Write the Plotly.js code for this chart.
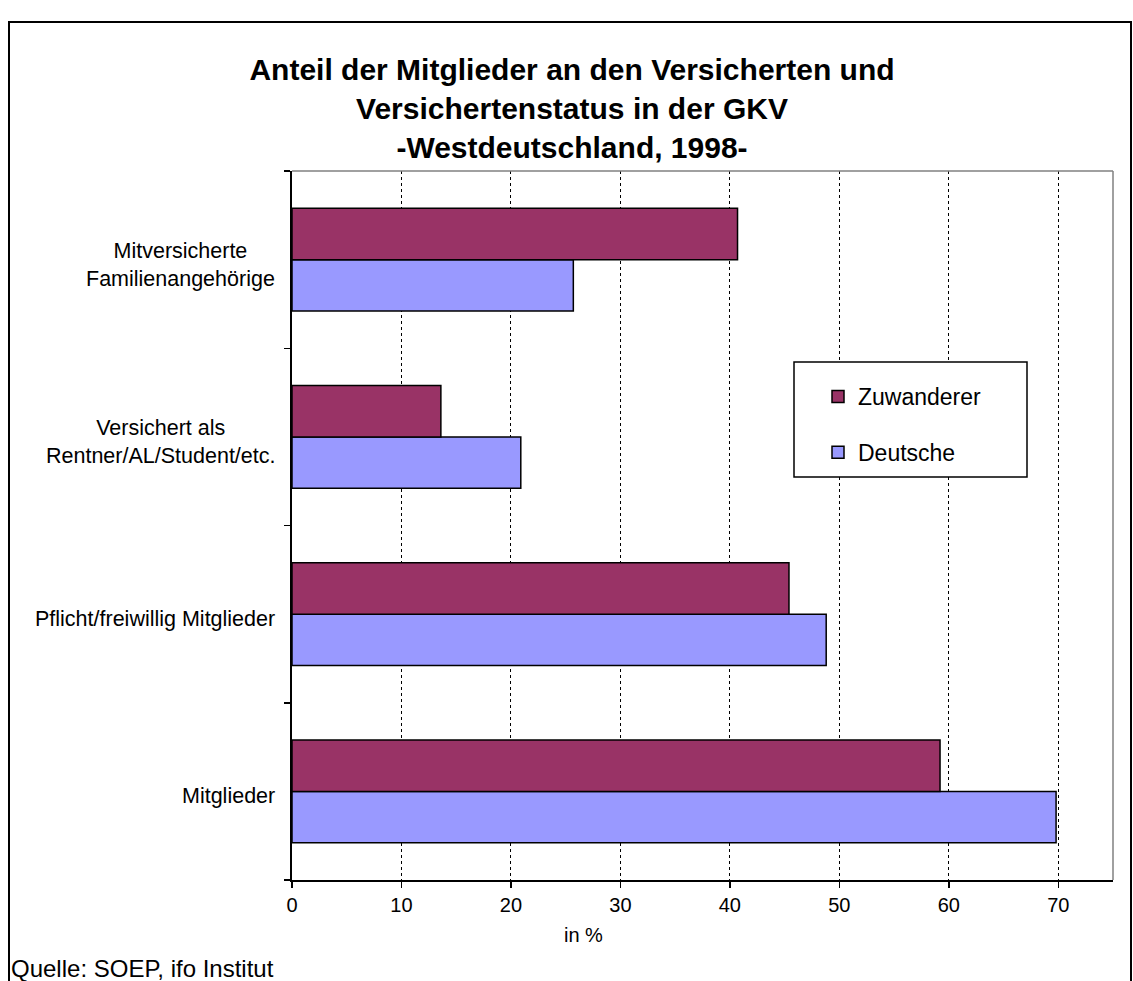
<!DOCTYPE html>
<html>
<head>
<meta charset="utf-8">
<script src="https://cdn.plot.ly/plotly-3.0.1.min.js"></script>
<style>html,body{margin:0;padding:0;background:#fff;}#chart{width:1133px;height:981px;}</style>
</head>
<body>
<div id="chart"></div>
<script>
// Data (categories listed bottom to top)
const categories = ["Mitglieder", "Pflicht/freiwillig Mitglieder", "Versichert als<br>Rentner/AL/Student/etc.", "Mitversicherte<br>Familienangehörige"];
const zuwanderer = [59.2, 45.4, 13.6, 40.7];
const deutsche = [69.8, 48.8, 20.9, 25.7];
const xTicks = [0, 10, 20, 30, 40, 50, 60, 70];
const seriesNames = ["Zuwanderer", "Deutsche"];

const FONT = "Liberation Sans, Arial, sans-serif";
const L = 292, R = 20, T = 171, B = 101, W = 1133, H = 981;
const pw = W - L - R, ph = H - T - B;
const px = v => (v - L) / pw;
const py = v => (H - B - v) / ph;

const traces = [
  {type: "bar", orientation: "h", name: seriesNames[1], y: categories, x: deutsche,
   legendgroup: "d", legendrank: 2,
   marker: {color: "#9999FF", line: {color: "#000", width: 1.5}}, hoverinfo: "x+name"},
  {type: "bar", orientation: "h", name: seriesNames[0], y: categories, x: zuwanderer,
   legendgroup: "z", legendrank: 1,
   marker: {color: "#993366", line: {color: "#000", width: 1.5}}, hoverinfo: "x+name"}
];

const annotations = categories.map(c => ({
  xref: "paper", yref: "y", x: 0, y: c, xanchor: "right", yanchor: "middle",
  xshift: -15, yshift: -5, text: c, align: "center", showarrow: false,
  font: {family: FONT, size: 21.5, color: "#000"}
}));
annotations.push({
  xref: "paper", yref: "paper", x: px(9), y: py(968), xanchor: "left", yanchor: "middle",
  text: "Quelle: SOEP, ifo Institut", showarrow: false,
  font: {family: FONT, size: 24, color: "#000"}
});
annotations.push({
  xref: "paper", yref: "paper", x: px(583), y: py(935), xanchor: "center", yanchor: "middle",
  text: "in %", showarrow: false,
  font: {family: FONT, size: 20, color: "#000"}
});

const layout = {
  width: W, height: H,
  margin: {l: L, r: R, t: T, b: B, pad: 0},
  paper_bgcolor: "#fff", plot_bgcolor: "#fff",
  title: {
    text: "<b>Anteil der Mitglieder an den Versicherten und<br>Versichertenstatus in der GKV<br>-Westdeutschland, 1998-</b>",
    font: {family: FONT, size: 30, color: "#000"},
    x: 572 / W, xanchor: "center", xref: "container",
    y: 1 - 80 / H, yanchor: "middle", yref: "container"
  },
  barmode: "group", bargap: 0.42, bargroupgap: 0,
  showlegend: true,
  legend: {
    x: px(818), xanchor: "left", y: py(375), yanchor: "top",
    traceorder: "grouped", tracegroupgap: 23,
    bgcolor: "rgba(0,0,0,0)", borderwidth: 0,
    font: {family: FONT, size: 23, color: "#000"}
  },
  xaxis: {
    range: [0, 75], tickvals: xTicks, ticktext: xTicks.map(String),
    showgrid: true, gridcolor: "#000", griddash: "dot", gridwidth: 1,
    zeroline: false, showline: true, linecolor: "#000", linewidth: 2,
    ticks: "outside", ticklen: 6, tickcolor: "#000", tickwidth: 1.5,
    tickfont: {family: FONT, size: 20, color: "#000"},
    fixedrange: true
  },
  yaxis: {
    type: "category", categoryorder: "array", categoryarray: categories,
    range: [-0.5, 3.5], showticklabels: false, showgrid: false, zeroline: false,
    showline: true, linecolor: "#000", linewidth: 2,
    ticks: "outside", tickson: "boundaries", ticklen: 6, tickcolor: "#000", tickwidth: 1.5,
    fixedrange: true
  },
  shapes: [
    {type: "line", xref: "paper", yref: "paper", x0: 0, x1: 1, y0: 1, y1: 1, line: {color: "#808080", width: 1.5}},
    {type: "line", xref: "paper", yref: "paper", x0: 1, x1: 1, y0: 0, y1: 1, line: {color: "#808080", width: 1.5}},
    {type: "rect", xref: "paper", yref: "paper", x0: px(794), x1: px(1027), y0: py(477), y1: py(362),
     line: {color: "#000", width: 1.5}, fillcolor: "#fff", layer: "above"},
    {type: "rect", xref: "paper", yref: "paper", x0: px(9), x1: px(1131), y0: py(995), y1: py(22),
     line: {color: "#000", width: 2}, layer: "below"}
  ],
  annotations: annotations
};

Plotly.newPlot("chart", traces, layout, {displayModeBar: false, staticPlot: true});
</script>
</body>
</html>
